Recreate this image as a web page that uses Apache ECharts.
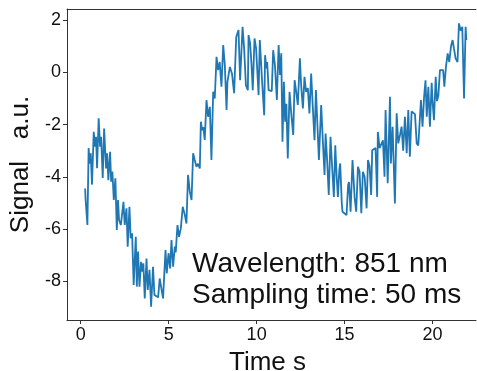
<!DOCTYPE html>
<html>
<head>
<meta charset="utf-8">
<script src="https://cdn.jsdelivr.net/npm/echarts@6/dist/echarts.min.js"></script>
<style>
html,body{margin:0;padding:0;background:#fff;}
#c{width:477px;height:371px;}
</style>
</head>
<body>
<div id="c"></div>
<script>
// Time (s)
const times = [
0.25,0.28,0.38,0.45,0.51,0.57,0.64,0.74,0.81,0.87,0.93,1.02,1.10,1.16,1.25,1.33,1.44,1.50,1.57,1.67,
1.73,1.80,1.88,1.97,2.05,2.12,2.18,2.28,2.34,2.43,2.50,2.60,2.67,2.77,2.84,2.92,3.01,3.13,3.19,3.26,
3.34,3.43,3.49,3.56,3.64,3.74,3.81,3.91,4.00,4.11,4.19,4.30,4.40,4.49,4.59,4.68,4.82,4.89,4.99,5.08,
5.16,5.25,5.35,5.40,5.50,5.59,5.69,5.80,5.92,6.01,6.10,6.20,6.30,6.39,6.48,6.58,6.67,6.77,6.83,6.90,
6.97,7.05,7.15,7.24,7.34,7.43,7.53,7.62,7.72,7.81,7.90,8.00,8.10,8.19,8.29,8.34,8.48,8.60,8.72,8.84,
8.90,8.97,9.06,9.20,9.29,9.39,9.50,9.54,9.63,9.70,9.78,9.88,9.97,10.11,10.18,10.30,10.43,10.48,10.56,10.60,
10.68,10.86,10.94,11.04,11.15,11.25,11.33,11.40,11.47,11.55,11.62,11.69,11.77,11.87,11.96,12.08,12.16,12.25,12.34,12.46,
12.53,12.63,12.72,12.81,12.91,13.00,13.10,13.20,13.29,13.37,13.48,13.54,13.67,13.77,13.86,13.92,14.01,14.10,14.20,14.29,
14.39,14.47,14.55,14.62,14.70,14.75,14.84,14.88,14.99,15.11,15.20,15.25,15.34,15.45,15.57,15.66,15.76,15.85,15.95,16.04,
16.14,16.25,16.33,16.42,16.51,16.57,16.66,16.76,16.85,16.89,16.99,17.08,17.18,17.27,17.33,17.45,17.58,17.63,17.73,17.86,
17.96,18.05,18.15,18.24,18.33,18.43,18.53,18.62,18.71,18.81,18.91,19.00,19.10,19.19,19.28,19.34,19.43,19.52,19.60,19.67,
19.76,19.85,19.95,20.00,20.08,20.18,20.25,20.33,20.42,20.52,20.60,20.67,20.76,20.86,20.95,21.05,21.14,21.22,21.31,21.42,
21.50,21.60,21.69,21.79,21.88,21.92
];
// Signal (a.u.)
const signal = [
-4.45,-4.90,-5.85,-2.90,-3.50,-3.10,-4.30,-2.28,-2.85,-2.47,-3.67,-1.76,-2.85,-2.47,-4.05,-2.15,-3.68,-3.10,-4.13,-3.04,
-4.19,-3.80,-4.89,-4.06,-6.04,-4.89,-5.66,-5.85,-5.91,-4.96,-5.85,-5.21,-6.68,-5.15,-6.36,-6.17,-8.15,-6.30,-8.21,-6.87,
-8.21,-7.26,-7.64,-7.32,-8.66,-7.13,-8.34,-7.57,-8.98,-7.45,-8.53,-8.60,-8.62,-7.90,-7.96,-8.66,-6.81,-7.70,-6.93,-7.51,
-6.43,-7.45,-6.68,-6.90,-5.85,-6.30,-5.98,-5.15,-5.47,-5.79,-3.93,-4.57,-4.89,-3.10,-3.36,-3.62,-3.50,-3.68,-1.89,-2.21,
-2.10,-2.59,-1.06,-1.70,-1.32,-3.36,-0.74,-1.00,0.60,0.09,0.40,-0.55,1.05,0.30,-1.44,-0.36,0.21,-0.05,-0.80,1.36,
1.43,1.62,-0.30,1.75,0.92,-0.49,-0.68,1.43,1.11,0.40,-0.68,1.30,0.92,-0.87,1.24,-0.23,-1.64,0.66,0.15,0.40,
-0.68,-0.72,0.85,0.28,-1.06,1.05,-0.10,0.73,-2.66,-0.36,-1.89,-1.20,-3.30,-0.74,-1.51,-2.40,-0.30,-0.75,-1.25,0.54,
-0.49,-1.38,-0.17,-0.75,-0.60,-1.57,-0.04,-1.44,-2.60,-0.68,-2.40,-3.36,-1.25,-2.72,-3.93,-2.34,-3.40,-4.70,-2.47,-3.60,
-4.77,-2.79,-4.00,-4.77,-3.74,-3.49,-5.00,-5.34,-5.40,-5.47,-4.32,-4.20,-5.34,-3.36,-4.80,-5.34,-3.62,-3.80,-5.40,-3.81,
-4.00,-5.21,-3.36,-3.60,-4.70,-2.98,-2.95,-2.90,-4.77,-2.28,-2.90,-2.85,-2.60,-4.00,-1.44,-4.25,-0.93,-3.49,-2.08,-5.02,
-1.57,-2.72,-2.40,-2.08,-3.00,-1.70,-3.10,-1.44,-3.23,-1.50,-1.57,-1.60,-2.72,-2.80,-2.85,-1.06,-2.08,-0.93,-0.30,-1.70,
-0.55,-2.08,-0.40,-1.10,-1.83,-0.17,-1.10,-0.90,0.09,0.09,0.09,-0.55,0.20,0.73,0.40,1.00,1.24,0.90,0.54,0.40,
1.88,1.60,1.75,-1.00,1.75,1.24
];
const xTicks = [0, 5, 10, 15, 20];
const yTicks = [-8, -6, -4, -2, 0, 2];
const annotations = ['Wavelength: 851 nm', 'Sampling time: 50 ms'];

const FONT = '"Liberation Sans", Arial, sans-serif';
const data = times.map((t, i) => [t, signal[i]]);
const chart = echarts.init(document.getElementById('c'), null, {renderer: 'canvas'});
const axisLine = {show: true, onZero: false, lineStyle: {color: '#333', width: 1}};
chart.setOption({
  animation: false,
  backgroundColor: '#fff',
  grid: {left: 67, top: 9, right: 1, bottom: 51, containLabel: false, outerBoundsMode: 'none'},
  xAxis: [{
    type: 'value', min: -0.78, max: 22.47, position: 'bottom',
    axisLine: axisLine,
    axisTick: {show: true, length: 4, inside: false, customValues: xTicks, lineStyle: {color: '#333'}},
    axisLabel: {customValues: xTicks, margin: 6, fontSize: 18, color: '#111', fontFamily: FONT},
    splitLine: {show: false},
    name: 'Time s', nameLocation: 'middle', nameGap: 30,
    nameTextStyle: {fontSize: 26, color: '#111', fontFamily: FONT, padding: [0, 8, 0, 0]}
  }, {
    type: 'value', min: -0.78, max: 22.47, position: 'top',
    axisLine: axisLine, axisTick: {show: false}, axisLabel: {show: false}, splitLine: {show: false}
  }],
  yAxis: {
    type: 'value', min: -9.49, max: 2.43,
    axisLine: axisLine,
    axisTick: {show: true, length: 4, customValues: yTicks, lineStyle: {color: '#333'}},
    axisLabel: {customValues: yTicks, margin: 6, fontSize: 18, color: '#111', fontFamily: FONT},
    splitLine: {show: false},
    name: 'Signal   a.u.', nameLocation: 'middle', nameGap: 31,
    nameTextStyle: {fontSize: 26, color: '#111', fontFamily: FONT}
  },
  graphic: [
    {type: 'text', left: 192, top: 250, style: {text: annotations[0], font: '28px ' + FONT, fill: '#111'}},
    {type: 'text', left: 192, top: 281, style: {text: annotations[1], font: '28px ' + FONT, fill: '#111'}}
  ],
  series: [{
    type: 'line', data: data, showSymbol: false, xAxisIndex: 0,
    lineStyle: {color: '#1f77b4', width: 1.8}, itemStyle: {color: '#1f77b4'}
  }]
});
</script>
</body>
</html>
